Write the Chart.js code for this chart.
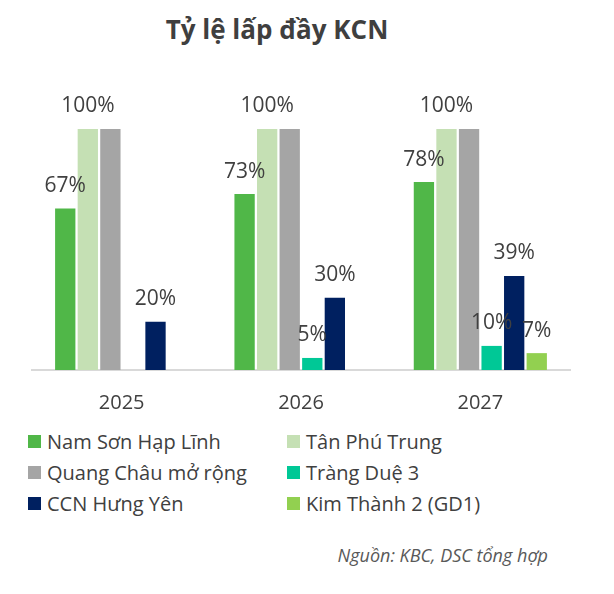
<!DOCTYPE html>
<html>
<head>
<meta charset="utf-8">
<script src="https://cdn.jsdelivr.net/npm/chart.js@4.4.0/dist/chart.umd.min.js"></script>
<style>
  body { margin: 0; background: #fff; font-family: "Open Sans", sans-serif; }
  #wrap { position: relative; width: 614px; height: 594px; }
  #title { position: absolute; left: 0; width: 554px; top: 11px; text-align: center;
           font-weight: bold; font-size: 26px; color: #3f3f3f; }
  #chartBox { position: absolute; left: 0; top: 0; width: 614px; height: 425px; }
  #legend { position: absolute; left: 28px; top: 428px; width: 560px; }
  .item { position: absolute; display: flex; align-items: center; font-size: 20px; color: #404040; white-space: nowrap; }
  .box { width: 13px; height: 13px; margin-right: 6px; }
  #source { position: absolute; right: 66px; top: 543px; font-style: italic; font-size: 18px; color: #595959; }
</style>
</head>
<body>
<div id="wrap">
  <div id="title">Tỷ lệ lấp đầy KCN</div>
  <div id="chartBox"><canvas id="fillChart"></canvas></div>
  <div id="legend"></div>
  <div id="source">Nguồn: KBC, DSC tổng hợp</div>
</div>
<script>
// du lieu
const years = ['2025', '2026', '2027'];
const namSon = [67, 73, 78];
const tanPhu = [100, 100, 100];
const quangChau = [100, 100, 100];
const trangDue = [null, 5, 10];
const hungYen = [20, 30, 39];
const kimThanh = [null, null, 7];

const seriesNames = ['Nam Sơn Hạp Lĩnh', 'Tân Phú Trung', 'Quang Châu mở rộng', 'Tràng Duệ 3', 'CCN Hưng Yên', 'Kim Thành 2 (GD1)'];
const seriesColors = ['#50b748', '#c5e0b4', '#a5a5a5', '#00c896', '#002060', '#92d050'];
const seriesData = [namSon, tanPhu, quangChau, trangDue, hungYen, kimThanh];

// labels arriba de las barras (gris no tiene etiqueta)
const valueLabels = {
    id: 'valueLabels',
    afterDatasetsDraw(chart) {
        const ctx = chart.ctx;
        ctx.save();
        ctx.font = '21px "Open Sans"';
        ctx.fillStyle = '#404040';
        ctx.textAlign = 'center';
        ctx.textBaseline = 'bottom';
        chart.data.datasets.forEach((ds, i) => {
            if (ds.noLabel) return;
            chart.getDatasetMeta(i).data.forEach((bar, j) => {
                const v = ds.data[j];
                if (v === null) return;
                ctx.fillText(v + '%', bar.x, bar.y - 12);
            });
        });
        ctx.restore();
    }
};

const ctx = document.getElementById('fillChart').getContext('2d');

const fillChart = new Chart(ctx, {
    type: 'bar',
    data: {
        labels: years,
        datasets: seriesNames.map((name, i) => ({
            label: name,
            data: seriesData[i],
            backgroundColor: seriesColors[i],
            barPercentage: 0.9,
            categoryPercentage: 0.755,
            noLabel: i === 2,
        })),
    },
    options: {
        responsive: true,
        maintainAspectRatio: false,
        animation: false,
        layout: {
            padding: { left: 32, right: 44, top: 129, bottom: 0 },
        },
        plugins: {
            legend: { display: false },
            tooltip: { enabled: false },
        },
        scales: {
            x: {
                grid: { display: false, drawTicks: false },
                border: { color: '#d9d9d9', width: 2 },
                ticks: {
                    color: '#404040',
                    font: { family: 'Open Sans', size: 20 },
                    padding: 21,
                },
                afterFit(scale) {
                    scale.height = 55;
                },
            },
            y: {
                display: false,
                min: 0,
                max: 100,
            },
        },
    },
    plugins: [valueLabels],
});

// leyenda en dos columnas
const legendEl = document.getElementById('legend');
fillChart.data.datasets.forEach((ds, i) => {
    const item = document.createElement('div');
    item.className = 'item';
    item.style.left = (i % 2 === 0 ? 0 : 259) + 'px';
    item.style.top = (Math.floor(i / 2) * 31) + 'px';
    item.innerHTML = '<span class="box" style="background:' + ds.backgroundColor + '"></span>' + ds.label;
    legendEl.appendChild(item);
});
</script>
</body>
</html>
